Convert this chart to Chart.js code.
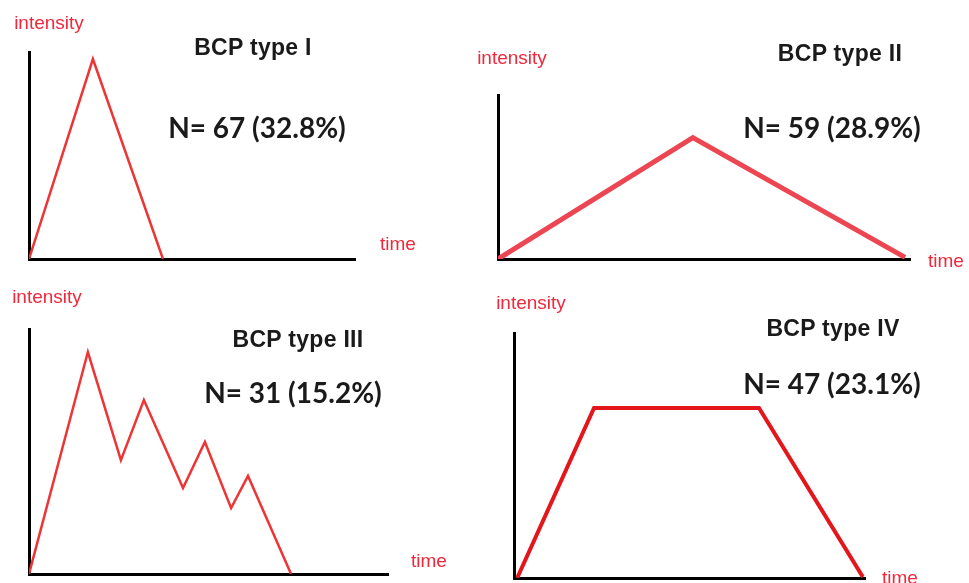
<!DOCTYPE html>
<html>
<head>
<meta charset="utf-8">
<script src="https://cdn.jsdelivr.net/npm/chart.js@4.4.0/dist/chart.umd.min.js"></script>
<style>
  html, body { margin: 0; padding: 0; background: #fff; }
  body { width: 969px; height: 583px; position: relative; overflow: hidden; }
  canvas { position: absolute; }
  .lbl { position: absolute; transform: translate(-50%, -50%); white-space: nowrap; line-height: 1; }
  .axis { font-family: "Liberation Sans", Arial, sans-serif; font-size: 19px; color: #f0283c; }
  .title { font-family: "Liberation Sans", Arial, sans-serif; font-weight: bold; font-size: 23px; letter-spacing: 0.3px; color: #1a1a1a; }
  .count { font-family: "Lato", "Open Sans", sans-serif; font-weight: bold; font-size: 28px; color: #1a1a1a; }
</style>
</head>
<body>

<script>
// burst types and their share
var types = ['I', 'II', 'III', 'IV'];
var counts = [67, 59, 31, 47];
var percents = [32.8, 28.9, 15.2, 23.1];

// sketched intensity profiles (time and intensity, arbitrary units 0-10 / 0-1)
var time1 = [0, 1.96, 4.11];
var intensity1 = [0, 0.966, 0];

var time2 = [0, 4.73, 9.88];
var intensity2 = [0, 0.74, 0.01];

var time3 = [0, 1.64, 2.56, 3.20, 4.29, 4.90, 5.63, 6.10, 7.30];
var intensity3 = [0, 0.906, 0.465, 0.710, 0.351, 0.539, 0.269, 0.400, 0];

var time4 = [0.09, 2.28, 6.98, 9.94];
var intensity4 = [0, 0.694, 0.694, 0.004];

var times = [time1, time2, time3, time4];
var intensities = [intensity1, intensity2, intensity3, intensity4];

// canvas box and padding to axes for each panel
var panels = [
  { box: [0, 0, 480, 280],   pad: { left: 29, top: 52, right: 125, bottom: 21 }, color: '#ee3535', width: 2.5,
    intensity: [49, 22], title: [253, 47], count: [257, 127], time: [398, 243] },
  { box: [470, 30, 499, 250], pad: { left: 28, top: 65, right: 59, bottom: 21 }, color: '#ec4652', width: 5,
    intensity: [512, 57], title: [840, 53], count: [832, 127], time: [946, 260] },
  { box: [0, 280, 480, 303], pad: { left: 29, top: 49, right: 92, bottom: 9 }, color: '#ee3535', width: 2.5,
    intensity: [47, 296], title: [298, 339], count: [293, 392], time: [429, 560] },
  { box: [470, 290, 499, 293], pad: { left: 44, top: 43, right: 104, bottom: 5 }, color: '#e3161b', width: 4,
    intensity: [531, 302], title: [833, 328], count: [832, 383], time: [900, 577] }
];

function addLabel(text, cls, pos) {
  var el = document.createElement('div');
  el.className = 'lbl ' + cls;
  el.textContent = text;
  el.style.left = pos[0] + 'px';
  el.style.top = pos[1] + 'px';
  document.body.appendChild(el);
}

panels.forEach(function (p, i) {
  var cv = document.createElement('canvas');
  cv.style.left = p.box[0] + 'px';
  cv.style.top = p.box[1] + 'px';
  cv.style.width = p.box[2] + 'px';
  cv.style.height = p.box[3] + 'px';
  cv.width = p.box[2];
  cv.height = p.box[3];
  document.body.appendChild(cv);

  var pts = times[i].map(function (t, k) { return { x: t, y: intensities[i][k] }; });

  new Chart(cv.getContext('2d'), {
    type: 'line',
    data: {
      datasets: [{
        data: pts,
        borderColor: p.color,
        borderWidth: p.width,
        pointRadius: 0,
        tension: 0,
        fill: false
      }]
    },
    options: {
      responsive: false,
      animation: false,
      layout: { padding: p.pad },
      plugins: { legend: { display: false }, tooltip: { enabled: false } },
      scales: {
        x: {
          type: 'linear', min: 0, max: 10,
          grid: { display: false, drawTicks: false },
          ticks: { display: false },
          border: { display: true, color: '#000', width: 3 }
        },
        y: {
          min: 0, max: 1,
          grid: { display: false, drawTicks: false },
          ticks: { display: false },
          border: { display: true, color: '#000', width: 3 }
        }
      }
    }
  });

  addLabel('intensity', 'axis', p.intensity);
  addLabel('time', 'axis', p.time);
  addLabel('BCP type ' + types[i], 'title', p.title);
  addLabel('N= ' + counts[i] + ' (' + percents[i].toFixed(1) + '%)', 'count', p.count);
});
</script>
</body>
</html>
